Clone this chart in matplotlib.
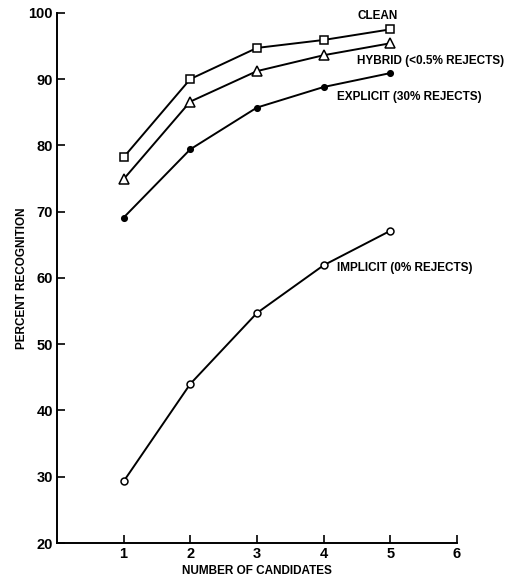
"""
Percent recognition vs number of candidates
"""

import matplotlib
matplotlib.use('Agg')
import matplotlib.pyplot as plt

# data
candidates = [1, 2, 3, 4, 5]
clean = [78.2, 90.0, 94.7, 95.9, 97.5]
hybrid = [74.9, 86.6, 91.2, 93.6, 95.4]
explicit = [69.1, 79.4, 85.7, 88.8, 90.9]
implicit = [29.3, 44.0, 54.7, 61.9, 67.1]

x_ticks = [1, 2, 3, 4, 5, 6]
y_ticks = [20, 30, 40, 50, 60, 70, 80, 90, 100]

plt.rcParams['font.family'] = ['Liberation Sans', 'DejaVu Sans']
plt.rcParams['font.weight'] = 'bold'

fig = plt.figure(figsize=(5.11, 5.82), dpi=100)
ax = fig.add_axes([0.1115, 0.067, 0.7825, 0.911])

line_kw = dict(color='black', linewidth=1.4, markersize=5.5, markeredgewidth=1.1)
ax.plot(candidates, clean, marker='s', markerfacecolor='white', **line_kw)
ax.plot(candidates, hybrid, marker='^', markerfacecolor='white', **dict(line_kw, markersize=6.5))
ax.plot(candidates, explicit, marker='o', markerfacecolor='black', **dict(line_kw, markersize=4))
ax.plot(candidates, implicit, marker='o', markerfacecolor='white', **dict(line_kw, markersize=5))

ax.set_xlim(0, 6)
ax.set_ylim(20, 100)
ax.set_xticks(x_ticks)
ax.set_yticks(y_ticks)
ax.tick_params(direction='in', length=6, width=1.2, labelsize=10.5, pad=3)
for lab in ax.get_xticklabels() + ax.get_yticklabels():
    lab.set_fontweight('bold')

ax.spines['top'].set_visible(False)
ax.spines['right'].set_visible(False)
ax.spines['left'].set_linewidth(1.4)
ax.spines['bottom'].set_linewidth(1.4)

ax.set_xlabel('NUMBER OF CANDIDATES', fontsize=8.5, fontweight='bold', labelpad=3)
ax.set_ylabel('PERCENT RECOGNITION', fontsize=8.5, fontweight='bold', labelpad=0)

# series labels
txt_kw = dict(fontsize=8.5, fontweight='bold', va='center')
ax.text(4.81, 99.5, 'CLEAN', ha='center', **txt_kw)
ax.text(4.5, 92.8, 'HYBRID (<0.5% REJECTS)', ha='left', **txt_kw)
ax.text(4.2, 87.3, 'EXPLICIT (30% REJECTS)', ha='left', **txt_kw)
ax.text(4.2, 61.5, 'IMPLICIT (0% REJECTS)', ha='left', **txt_kw)

plt.savefig('out.png', dpi=100)
plt.close()
